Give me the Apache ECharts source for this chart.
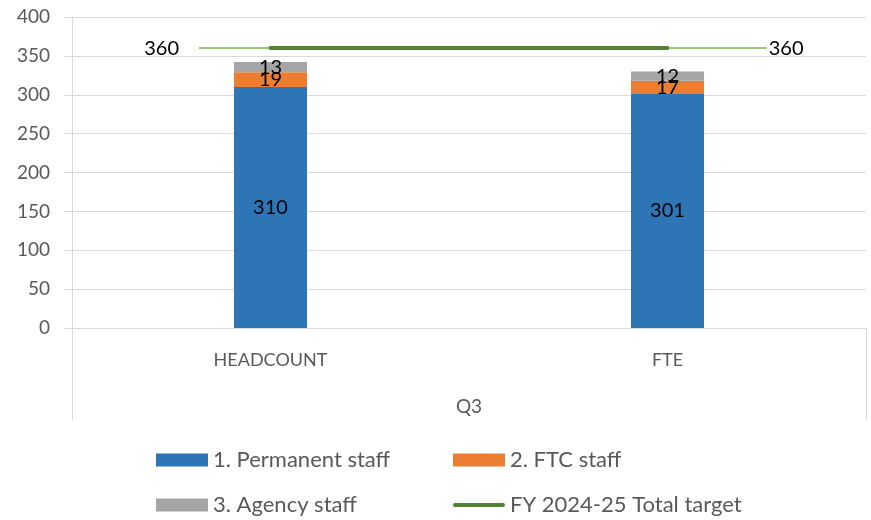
<!DOCTYPE html>
<html>
<head>
<meta charset="utf-8">
<script src="https://cdn.jsdelivr.net/npm/echarts@6/dist/echarts.min.js"></script>
<style>
  html, body { margin: 0; padding: 0; background: #fff; }
  #chart { width: 871px; height: 520px; }
</style>
</head>
<body>
<div id="chart"></div>
<script>
var categories = ['HEADCOUNT', 'FTE'];
var groupLabels = ['Q3'];
var permanent = [310, 301];
var ftc = [19, 17];
var agency = [13, 12];
var target = [360, 360];
// thin extension of the target line, in category units (-0.5 .. 1.5)
var targetExtent = [[-0.18, 360], [1.25, 360]];

var FONT = 'Lato';
var GREY = '#595959';
var GRID = '#d9d9d9';

var chart = echarts.init(document.getElementById('chart'));

function barLabel() {
  return {
    show: true, position: 'inside', color: '#000',
    fontFamily: FONT, fontSize: 20, textBorderWidth: 0
  };
}

function legendAt(left, top, name, icon) {
  var item = { name: name };
  if (icon) item.icon = icon;
  return {
    left: left, top: top, itemWidth: 52, itemHeight: 13,
    textStyle: { color: GREY, fontFamily: FONT, fontSize: 22 },
    data: [item]
  };
}

var option = {
  animation: false,
  grid: { left: 72, right: 5, top: 17, bottom: 192, containLabel: false },
  legend: [
    legendAt(151, 444, '1. Permanent staff', 'rect'),
    legendAt(448, 444, '2. FTC staff', 'rect'),
    legendAt(151, 489, '3. Agency staff', 'rect'),
    legendAt(448, 489, 'FY 2024-25 Total target',
      'path://M2,0 L50,0 A2,2 0 0 1 50,4 L2,4 A2,2 0 0 1 2,0 Z')
  ],
  xAxis: [{
    type: 'category', data: categories, position: 'bottom',
    axisLine: { show: true, onZero: false, lineStyle: { color: GRID, width: 1 } },
    axisTick: { show: false },
    axisLabel: { color: GREY, fontFamily: FONT, fontSize: 18, margin: 23 }
  }, {
    type: 'category', data: groupLabels, position: 'bottom',
    axisLine: { show: false, onZero: false },
    axisTick: { show: true, length: 92, lineStyle: { color: GRID } },
    axisLabel: { color: GREY, fontFamily: FONT, fontSize: 19, margin: 69 }
  }, {
    type: 'value', min: -0.5, max: 1.5, show: false,
    splitLine: { show: false }, axisLine: { show: false },
    axisTick: { show: false }, axisLabel: { show: false }
  }],
  yAxis: {
    type: 'value', min: 0, max: 400, interval: 50,
    axisLine: { show: true, onZero: false, lineStyle: { color: GRID } },
    axisTick: { show: true, length: 8, lineStyle: { color: GRID } },
    splitLine: { show: true, lineStyle: { color: GRID } },
    axisLabel: { color: GREY, fontFamily: FONT, fontSize: 19, margin: 22 }
  },
  series: [{
    name: '1. Permanent staff', type: 'bar', stack: 'staff', barWidth: 73,
    itemStyle: { color: '#2E75B6' }, label: barLabel(), data: permanent
  }, {
    name: '2. FTC staff', type: 'bar', stack: 'staff', barWidth: 73,
    itemStyle: { color: '#ED7D31' }, label: barLabel(), data: ftc
  }, {
    name: '3. Agency staff', type: 'bar', stack: 'staff', barWidth: 73,
    itemStyle: { color: '#A5A5A5' }, label: barLabel(), data: agency
  }, {
    name: 'target extent', type: 'line', xAxisIndex: 2, z: 3,
    symbol: 'circle', symbolSize: 2, showSymbol: true,
    itemStyle: { color: 'rgba(0,0,0,0)' },
    lineStyle: { color: '#7DB55A', width: 1.5 },
    data: [{
      value: targetExtent[0],
      label: { show: true, position: 'left', distance: 19 }
    }, {
      value: targetExtent[1],
      label: { show: true, position: 'right', distance: 1 }
    }],
    label: {
      show: true, color: '#000', fontFamily: FONT, fontSize: 20,
      formatter: function (p) { return p.value[1]; }
    }
  }, {
    name: 'FY 2024-25 Total target', type: 'line', z: 4,
    symbol: 'none',
    itemStyle: { color: '#548235' },
    lineStyle: { color: '#548235', width: 4, cap: 'round' },
    data: target
  }]
};

chart.setOption(option);
</script>
</body>
</html>
